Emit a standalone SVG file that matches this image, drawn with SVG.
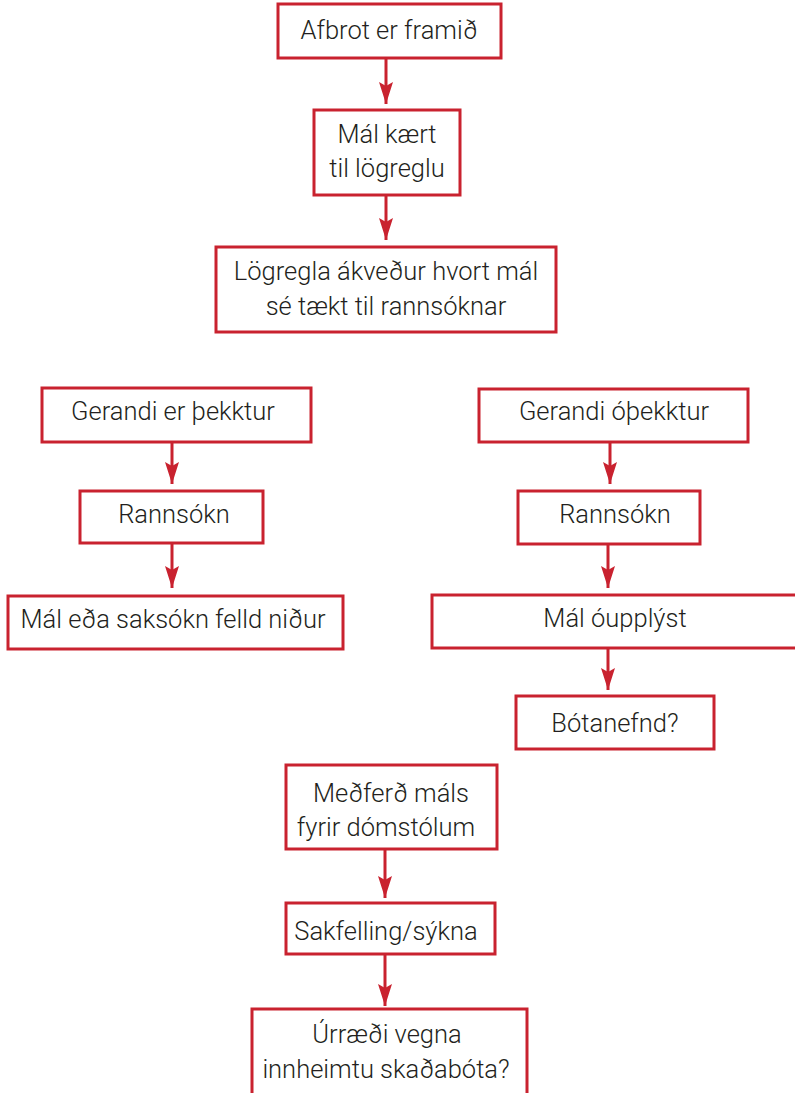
<svg xmlns="http://www.w3.org/2000/svg" width="795" height="1093" viewBox="0 0 795 1093">
<style>
.b{fill:#fff;stroke:#c9222f;stroke-width:3}
.t{font-family:Roboto,"Liberation Sans",sans-serif;font-weight:300;font-size:25.5px;fill:#231f20;text-anchor:middle}
.c{stroke:#c9222f;stroke-width:3;fill:none}
</style>
<defs>
<marker id="ah" markerUnits="userSpaceOnUse" markerWidth="24" markerHeight="16" viewBox="0 0 24 16" refX="22" refY="8" orient="auto">
<path d="M0,1 L4,8 L0,15 L22,8 Z" fill="#c9222f"/>
</marker>
</defs>
<rect width="795" height="1093" fill="#fff"/>
<g id="connectors">
<line class="c" x1="386" y1="58" x2="386" y2="104" marker-end="url(#ah)"/>
<line class="c" x1="386" y1="195" x2="386" y2="240" marker-end="url(#ah)"/>
<line class="c" x1="172" y1="442" x2="172" y2="484" marker-end="url(#ah)"/>
<line class="c" x1="172" y1="543" x2="172" y2="588" marker-end="url(#ah)"/>
<line class="c" x1="610" y1="442" x2="610" y2="484" marker-end="url(#ah)"/>
<line class="c" x1="608" y1="544" x2="608" y2="588" marker-end="url(#ah)"/>
<line class="c" x1="608" y1="648" x2="608" y2="690" marker-end="url(#ah)"/>
<line class="c" x1="385" y1="849" x2="385" y2="898" marker-end="url(#ah)"/>
<line class="c" x1="385" y1="954" x2="385" y2="1006" marker-end="url(#ah)"/>
</g>
<g id="n1"><rect class="b" x="278" y="4" width="223" height="54"/><text class="t" x="389" y="39">Afbrot er framið</text></g>
<g id="n2"><rect class="b" x="314" y="110" width="146" height="85"/><text class="t" x="387" y="143">Mál kært</text><text class="t" x="387" y="177">til lögreglu</text></g>
<g id="n3"><rect class="b" x="216" y="247" width="340" height="85"/><text class="t" x="386" y="280">Lögregla ákveður hvort mál</text><text class="t" x="386" y="315">sé tækt til rannsóknar</text></g>
<g id="n4"><rect class="b" x="42" y="388" width="269" height="54"/><text class="t" x="173" y="420">Gerandi er þekktur</text></g>
<g id="n5"><rect class="b" x="80" y="491" width="183" height="52"/><text class="t" x="174" y="523">Rannsókn</text></g>
<g id="n6"><rect class="b" x="8" y="596" width="335" height="53"/><text class="t" x="173" y="628">Mál eða saksókn felld niður</text></g>
<g id="n7"><rect class="b" x="479" y="389" width="269" height="53"/><text class="t" x="614" y="420">Gerandi óþekktur</text></g>
<g id="n8"><rect class="b" x="518" y="491" width="182" height="53"/><text class="t" x="615" y="523">Rannsókn</text></g>
<g id="n9"><rect class="b" x="432" y="595" width="375" height="53"/><text class="t" x="615" y="627">Mál óupplýst</text></g>
<g id="n10"><rect class="b" x="516" y="696" width="198" height="53"/><text class="t" x="615" y="732">Bótanefnd?</text></g>
<g id="n11"><rect class="b" x="286" y="765" width="211" height="84"/><text class="t" x="391" y="802">Meðferð máls</text><text class="t" x="386" y="836">fyrir dómstólum</text></g>
<g id="n12"><rect class="b" x="286" y="903" width="209" height="51"/><text class="t" x="386" y="940">Sakfelling/sýkna</text></g>
<g id="n13"><rect class="b" x="252" y="1009" width="275" height="100"/><text class="t" x="387" y="1043">Úrræði vegna</text><text class="t" x="386" y="1078">innheimtu skaðabóta?</text></g>
</svg>
